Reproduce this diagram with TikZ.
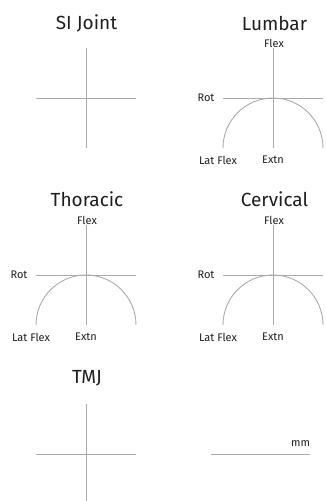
\documentclass[tikz,border=0pt]{standalone}
\usepackage{fontspec}
\setmainfont{Fira Sans}
\usetikzlibrary{positioning}
\definecolor{axisc}{HTML}{ABABAB}
\definecolor{textc}{HTML}{1E1E1E}
\begin{document}
\begin{tikzpicture}[x=1pt, y=-1pt, every node/.style={text=textc, inner sep=0pt},
      ttl/.style={font=\fontsize{19}{22}\selectfont},
      lbl/.style={font=\fontsize{11}{13}\selectfont},
      ax/.style={draw=axisc, line width=0.9pt}]
    \useasboundingbox (0,0) rectangle (325,501);
    % axis crosses: name/x/y
    \foreach \n/\x/\y in {si/86/98, lu/273/98, th/86/275, ce/273/275, tm/86/454} {
      \coordinate (\n-l) at (\x-50,\y);
      \coordinate (\n-r) at (\x+50,\y);
      \coordinate (\n-t) at (\x,\y-50);
      \coordinate (\n-b) at (\x,\y+50);
      \draw[ax] (\n-l) -- (\n-r) (\n-t) -- (\n-b);
    }
    \node[ttl] (si) at (86.5,23)  {SI Joint};
    \node[ttl] (lu) at (274.5,23) {Lumbar};
    \node[ttl] (th) at (87,199)   {Thoracic};
    \node[ttl] (ce) at (274.5,199) {Cervical};
    \node[ttl] (tm) at (87,378)   {TMJ};
    % range arcs and labels
    \foreach \n/\x/\y in {lu/273/98, th/86/275, ce/273/275} {
      \coordinate (\n-bl) at (\x-50,\y+50);
      \draw[ax] (\n-bl) arc[start angle=180, end angle=360, radius=50];
      \node[lbl] (\n-flex) at (\x+1,\y-55) {Flex};
      \node[lbl] (\n-rot)  at (\x-67,\y)   {Rot};
      \node[lbl] (\n-lat)  at (\x-55,\y+62) {Lat Flex};
      \node[lbl] (\n-ext)  at (\x,\y+62)   {Extn};
    }
    % scale
    \coordinate (mm-l) at (211,454);
    \coordinate (mm-r) at (310,454);
    \draw[ax] (mm-l) -- (mm-r);
    \node[lbl] (mm) at (300.5,444) {mm};
  \end{tikzpicture}
\end{document}
